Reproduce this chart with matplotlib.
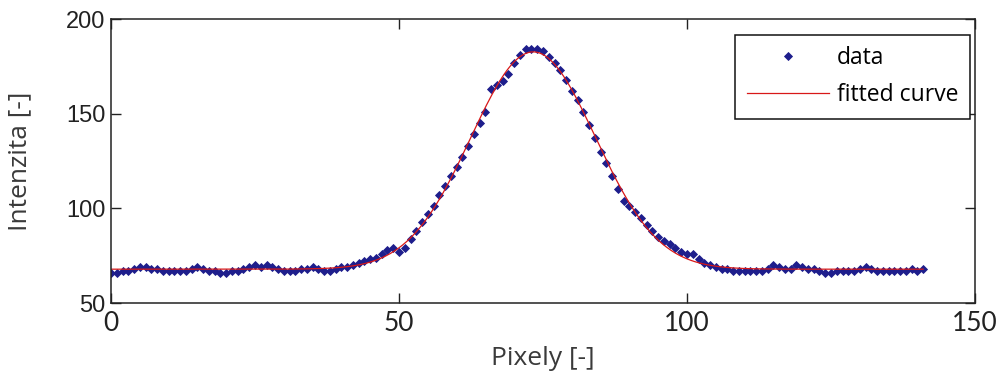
import numpy as np
import matplotlib
matplotlib.use("Agg")
import matplotlib.pyplot as plt

# Measured intensity profile along the pixel row
pixels = np.arange(0, 142)
intensity = [
    66, 66, 67, 67, 68, 69, 69, 68, 68, 67,
    67, 67, 67, 67, 68, 69, 68, 67, 67, 66,
    66, 67, 67, 68, 69, 70, 69, 70, 69, 68,
    67, 67, 67, 68, 68, 69, 68, 67, 67, 68,
    69, 69, 70, 71, 72, 73, 74, 76, 78, 79,
    77, 79, 84, 88, 93, 97, 101, 107, 112, 117,
    122, 127, 133, 139, 145, 151, 163, 165, 167, 171,
    177, 181, 184, 184, 184, 183, 180, 177, 173, 168,
    162, 157, 151, 144, 137, 130, 124, 117, 110, 104,
    101, 98, 95, 91, 88, 85, 83, 81, 79, 77,
    76, 76, 73, 71, 70, 69, 68, 68, 67, 67,
    67, 67, 67, 67, 68, 70, 69, 68, 68, 70,
    69, 68, 68, 67, 66, 66, 67, 67, 67, 67,
    68, 69, 68, 67, 67, 67, 67, 67, 67, 68,
    67, 68,
]

x_ticks = [0, 50, 100, 150]
y_ticks = [50, 100, 150, 200]
legend_labels = ["data", "fitted curve"]


def fit_gaussian(x, y):
    """Least-squares fit of y = a*exp(-((x-b)/c)^2) + d."""
    x = np.asarray(x, float)
    y = np.asarray(y, float)
    best = None
    for b in np.linspace(60, 85, 251):
        for c in np.linspace(8, 25, 171):
            g = np.exp(-((x - b) / c) ** 2)
            A = np.column_stack([g, np.ones_like(x)])
            coef, *_ = np.linalg.lstsq(A, y, rcond=None)
            err = np.sum((A @ coef - y) ** 2)
            if best is None or err < best[0]:
                best = (err, coef[0], b, c, coef[1])
    _, a, b, c, d = best
    return lambda t: a * np.exp(-((t - b) / c) ** 2) + d


model = fit_gaussian(pixels, intensity)
x_fit = np.linspace(pixels.min(), pixels.max(), 600)

W, H = 1006, 381
fig = plt.figure(figsize=(W / 100, H / 100), dpi=100)
ax = fig.add_axes([111 / W, 1 - 303 / H, (975 - 111) / W, (303 - 19) / H])

ax.plot(pixels, intensity, linestyle="none", marker="D", markersize=4.2,
        markeredgewidth=0.6, color="#1e1e8c", label=legend_labels[0])
ax.plot(x_fit, model(x_fit), color="#d81818", linewidth=0.9,
        label=legend_labels[1])

ax.set_xlim(0, 150)
ax.set_ylim(50, 200)
ax.set_xticks(x_ticks)
ax.set_yticks(y_ticks)
ax.tick_params(direction="in", length=7, width=1, top=True, right=True,
               colors="#222222", pad=4)
ax.tick_params(axis="x", pad=6)
for lab in ax.get_yticklabels():
    lab.set_fontfamily("Liberation Sans")
    lab.set_fontsize(17)
for lab in ax.get_xticklabels():
    lab.set_fontfamily("Lato")
    lab.set_fontsize(19)
for s in ax.spines.values():
    s.set_linewidth(1.1)
    s.set_color("#222222")

ax.set_xlabel("Pixely [-]", fontfamily="Open Sans", fontsize=19,
              color="#3a3a3a", labelpad=7)
ax.set_ylabel("Intenzita [-]", fontfamily="Open Sans", fontsize=19,
              color="#3a3a3a", labelpad=24)

leg = ax.legend(loc="upper right", bbox_to_anchor=(970 / W, 1 - 35 / H),
                bbox_transform=fig.transFigure, fancybox=False, framealpha=1,
                edgecolor="#111111", borderaxespad=0, handlelength=3.6,
                handletextpad=0.35, borderpad=0.5, labelspacing=0.55,
                prop={"family": "Open Sans", "size": 16.5}, markerscale=1.0)
leg.get_frame().set_linewidth(1.1)

fig.savefig("out.png", dpi=100)
